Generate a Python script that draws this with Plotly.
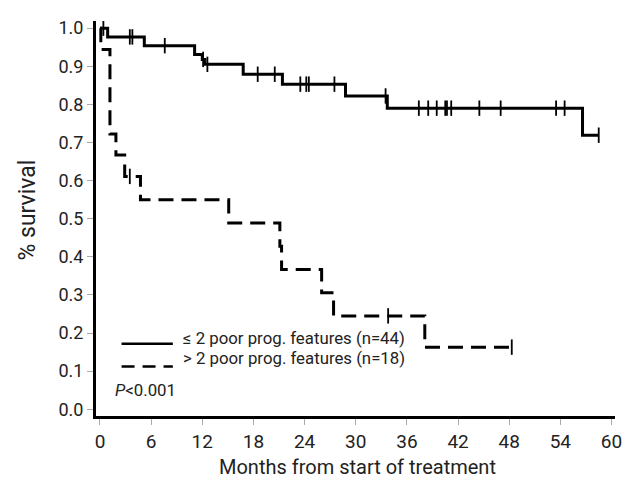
import plotly.graph_objects as go

# ---- data ----
solid_times = [0, 0.9, 5.2, 11.1, 12.0, 12.3, 16.8, 21.4, 28.8, 33.7, 56.6, 58.5]
solid_surv = [1.0, 0.977, 0.954, 0.931, 0.918, 0.905, 0.879, 0.853, 0.822, 0.790, 0.719, 0.719]
solid_censor = [0.4, 3.5, 3.8, 7.6, 12.1, 12.6, 18.5, 20.5, 23.5, 24.2, 24.5, 27.5, 33.5,
                37.4, 38.5, 39.5, 40.5, 40.7, 41.2, 44.5, 47.0, 53.5, 54.5, 58.5]

dashed_times = [0, 0.1, 1.17, 1.87, 2.9, 4.75, 15.1, 21.1, 21.3, 26.0, 27.4, 38.1, 48.3]
dashed_surv = [1.0, 0.944, 0.722, 0.667, 0.611, 0.550, 0.489, 0.428, 0.367, 0.306, 0.245, 0.163, 0.163]
dashed_censor = [3.5, 33.8, 48.3]

x_ticks = [0, 6, 12, 18, 24, 30, 36, 42, 48, 54, 60]
y_ticks = [0.0, 0.1, 0.2, 0.3, 0.4, 0.5, 0.6, 0.7, 0.8, 0.9, 1.0]

legend_labels = ["≤ 2 poor prog. features (n=44)", "> 2 poor prog. features (n=18)"]
p_text = "<i>P</i><0.001"
x_title = "Months from start of treatment"
y_title = "% survival"


def step_value(times, surv, t):
    v = surv[0]
    for ti, si in zip(times, surv):
        if ti <= t:
            v = si
    return v


FONT = "Roboto, Liberation Sans, sans-serif"
TXT = "#222"

fig = go.Figure()

for times, surv, cens, dash in [
    (solid_times, solid_surv, solid_censor, "solid"),
    (dashed_times, dashed_surv, dashed_censor, "15px,8px"),
]:
    fig.add_trace(go.Scatter(
        x=times, y=surv, mode="lines", line=dict(shape="hv", color="black", width=3, dash=dash),
        showlegend=False, hoverinfo="skip"))
    fig.add_trace(go.Scatter(
        x=cens, y=[step_value(times, surv, t) for t in cens], mode="markers",
        marker=dict(symbol="line-ns", size=11, line=dict(width=1.8, color="black")),
        showlegend=False, hoverinfo="skip"))

# page body has an 8px margin: figure is shrunk/shifted to compensate
fig.update_layout(
    width=623, height=479,
    margin=dict(l=88, r=13, t=9, b=71),
    paper_bgcolor="white", plot_bgcolor="white",
    font=dict(family=FONT, color=TXT),
    xaxis=dict(range=[-0.466, 60.41], tickvals=x_ticks, ticktext=[str(v) for v in x_ticks],
               showgrid=False, zeroline=False, showline=True, linecolor="black", linewidth=3,
               ticks="outside", ticklen=6, tickcolor="#aaa", tickwidth=1,
               tickfont=dict(size=19, family=FONT, color=TXT)),
    yaxis=dict(range=[-0.0177, 1.0187], tickvals=y_ticks, ticktext=[f"{v:.1f}" for v in y_ticks],
               showgrid=False, zeroline=False, showline=True, linecolor="black", linewidth=3,
               ticks="outside", ticklen=6, tickcolor="#aaa", tickwidth=1,
               tickfont=dict(size=18, family=FONT, color=TXT)),
)


def px(xw):
    return (xw - 96) / 522


def py(yw):
    return (416 - yw) / 399


# legend samples
fig.add_shape(type="line", xref="paper", yref="paper", x0=px(121.7), x1=px(173.3),
              y0=py(343), y1=py(343), line=dict(color="black", width=2.5))
fig.add_shape(type="line", xref="paper", yref="paper", x0=px(121.7), x1=px(173.3),
              y0=py(366), y1=py(366), line=dict(color="black", width=2.5, dash="13px,8px"))

fig.add_annotation(text=legend_labels[0], xref="paper", yref="paper", x=px(181),
                   y=py(337), xanchor="left", yanchor="middle", showarrow=False,
                   font=dict(size=16.8, family=FONT, color=TXT))
fig.add_annotation(text=legend_labels[1], xref="paper", yref="paper", x=px(181),
                   y=py(357), xanchor="left", yanchor="middle", showarrow=False,
                   font=dict(size=16.8, family=FONT, color=TXT))
fig.add_annotation(text=p_text, xref="paper", yref="paper", x=px(113),
                   y=py(390), xanchor="left", yanchor="middle", showarrow=False,
                   font=dict(size=16.8, family=FONT, color=TXT))

fig.add_annotation(text=x_title, xref="paper", yref="paper", x=px(359),
                   y=py(468), xanchor="center", yanchor="middle", showarrow=False,
                   font=dict(size=20, family=FONT, color=TXT))
fig.add_annotation(text=y_title, xref="paper", yref="paper", x=px(27),
                   y=py(208), xanchor="center", yanchor="middle", showarrow=False,
                   textangle=-90, font=dict(size=23, family=FONT, color=TXT))

fig.write_html("out.html")
